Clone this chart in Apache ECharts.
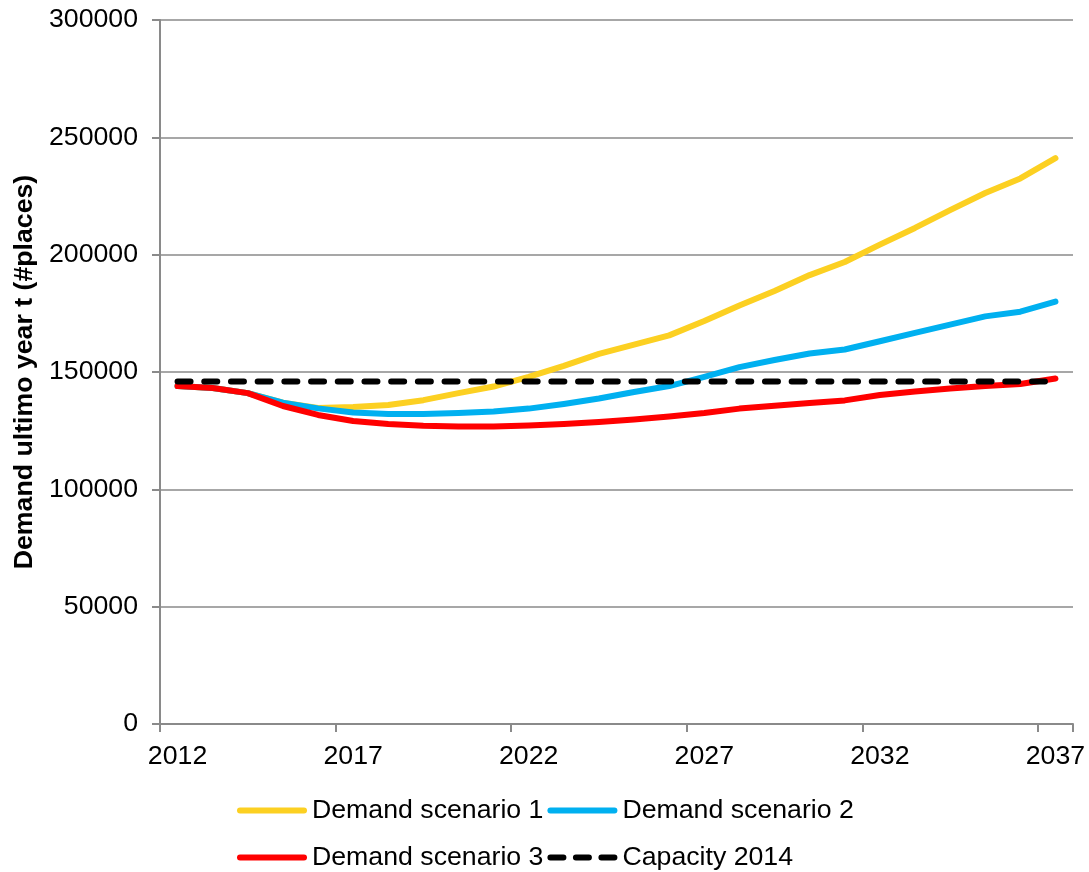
<!DOCTYPE html>
<html>
<head>
<meta charset="utf-8">
<script src="https://cdn.jsdelivr.net/npm/echarts@6/dist/echarts.min.js"></script>
<style>
html,body{margin:0;padding:0;background:#fff;}
#chart{width:1089px;height:872px;}
</style>
</head>
<body>
<div id="chart"></div>
<script>
const years = ['2012','2013','2014','2015','2016','2017','2018','2019','2020','2021','2022','2023','2024','2025','2026','2027','2028','2029','2030','2031','2032','2033','2034','2035','2036','2037'];
const scenario1 = [144000,143200,141000,136900,134700,135100,135900,138000,141000,143800,147900,152600,157700,161700,165600,171700,178300,184500,191300,196900,204300,211400,219000,226300,232500,241100];
const scenario2 = [144000,143200,141000,136900,134500,132700,132100,132100,132500,133200,134400,136400,138700,141500,144000,147900,152100,155100,157900,159600,163100,166700,170200,173700,175700,180000];
const scenario3 = [144000,143200,141000,135500,131700,129100,127800,127100,126800,126800,127200,127800,128700,129800,131000,132500,134400,135600,136800,137900,140200,141700,143000,144000,144900,147200];
const capacity2014 = [146000,146000,146000,146000,146000,146000,146000,146000,146000,146000,146000,146000,146000,146000,146000,146000,146000,146000,146000,146000,146000,146000,146000,146000,146000,146000];
const seriesNames = ['Demand scenario 1','Demand scenario 2','Demand scenario 3','Capacity 2014'];
const yTitle = 'Demand ultimo year t (#places)';

const FONT = '"Liberation Sans", Arial, sans-serif';
const FS = 26.7;
const GRID = '#8a8a8a';
const LW = 6;
const chart = echarts.init(document.getElementById('chart'), null, {renderer:'canvas'});

function lineSeries(name, data, color, type) {
  return {
    name: name, type: 'line', data: data, symbol: 'none', smooth: false,
    lineStyle: {color: color, width: LW, type: type || 'solid', cap: 'round', join: 'round'},
    itemStyle: {color: color},
    emphasis: {disabled: true}, animation: false
  };
}

// legend icons: thick rounded line, and three rounded dashes for the capacity line
const solidIcon = 'path://M3,0 h64 a3,3 0 0 1 0,6 h-64 a3,3 0 0 1 0,-6 z';
const dashIcon = 'path://M3,0 h13 a3,3 0 0 1 0,6 h-13 a3,3 0 0 1 0,-6 z M28.5,0 h13 a3,3 0 0 1 0,6 h-13 a3,3 0 0 1 0,-6 z M54,0 h13 a3,3 0 0 1 0,6 h-13 a3,3 0 0 1 0,-6 z';

function legendBlock(top, names, icons) {
  return {
    left: 237, top: top, padding: 0, itemWidth: 70, itemHeight: LW, itemGap: 4,
    data: names.map((n, i) => ({name: n, icon: icons[i]})),
    textStyle: {fontSize: FS, color: '#000', fontFamily: FONT}
  };
}

chart.setOption({
  backgroundColor: '#ffffff',
  animation: false,
  textStyle: {fontFamily: FONT},
  grid: {left: 160, right: 16, top: 20, bottom: 148, containLabel: false},
  legend: [
    legendBlock(797, [seriesNames[0], seriesNames[1]], [solidIcon, solidIcon]),
    legendBlock(844, [seriesNames[2], seriesNames[3]], [solidIcon, dashIcon])
  ],
  xAxis: {
    type: 'category', data: years, boundaryGap: true,
    axisLine: {lineStyle: {color: GRID, width: 2}},
    axisTick: {show: true, interval: 4, length: 8, lineStyle: {color: GRID, width: 2}},
    axisLabel: {interval: 4, fontSize: FS, color: '#000', margin: 19, fontFamily: FONT},
    splitLine: {show: false}
  },
  yAxis: {
    type: 'value', min: 0, max: 300000, interval: 50000,
    name: yTitle, nameLocation: 'middle', nameGap: 120,
    nameTextStyle: {fontSize: FS, fontWeight: 'bold', color: '#000', fontFamily: FONT},
    axisLine: {show: true, lineStyle: {color: GRID, width: 2}},
    axisTick: {show: true, length: 8, lineStyle: {color: GRID, width: 2}},
    axisLabel: {fontSize: FS, color: '#000', margin: 22, fontFamily: FONT,
      formatter: v => String(v)},
    splitLine: {show: true, lineStyle: {color: GRID, width: 1.5}}
  },
  series: [
    lineSeries(seriesNames[0], scenario1, '#FCD022'),
    lineSeries(seriesNames[1], scenario2, '#00B0F0'),
    lineSeries(seriesNames[2], scenario3, '#FF0000'),
    lineSeries(seriesNames[3], capacity2014, '#000000', [13, 13.7])
  ]
});
</script>
</body>
</html>
